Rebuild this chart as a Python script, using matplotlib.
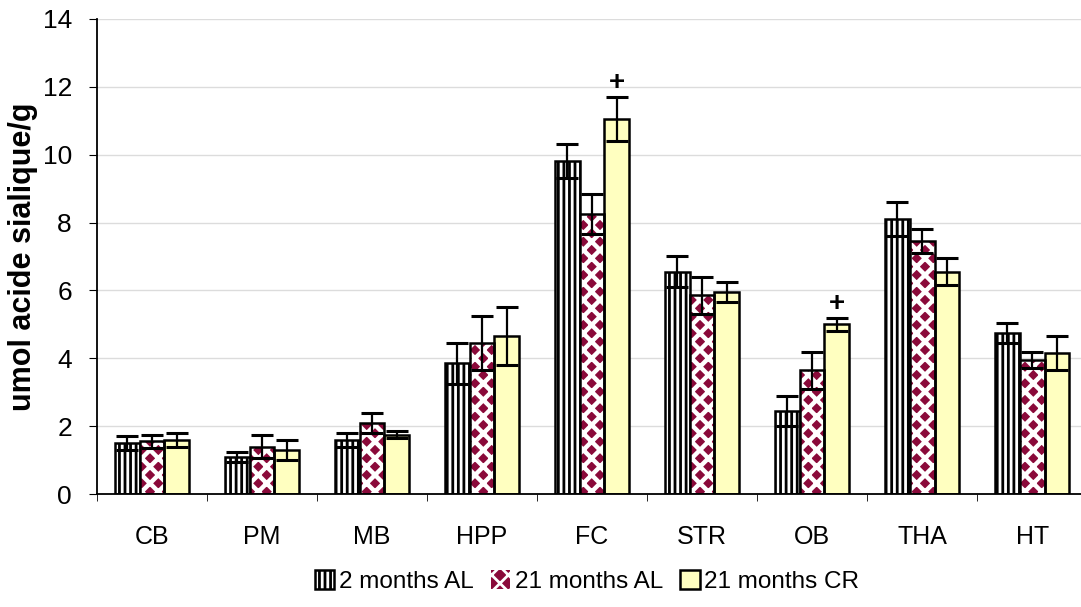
import matplotlib as mpl
mpl.use('Agg')
import matplotlib.pyplot as plt
import numpy as np

plt.rcParams['font.family'] = ['Liberation Sans', 'DejaVu Sans']
plt.rcParams['hatch.linewidth'] = 2.0

regions = ['CB', 'PM', 'MB', 'HPP', 'FC', 'STR', 'OB', 'THA', 'HT']
labels = ['2 months AL', '21 months AL', '21 months CR']
al2 = [1.5, 1.1, 1.6, 3.85, 9.8, 6.55, 2.45, 8.1, 4.75]
al21 = [1.55, 1.4, 2.1, 4.45, 8.25, 5.85, 3.65, 7.45, 3.95]
cr21 = [1.6, 1.3, 1.75, 4.65, 11.05, 5.95, 5.0, 6.55, 4.15]
err_al2 = [0.2, 0.15, 0.2, 0.6, 0.5, 0.45, 0.45, 0.5, 0.3]
err_al21 = [0.2, 0.35, 0.3, 0.8, 0.6, 0.55, 0.55, 0.35, 0.25]
err_cr21 = [0.2, 0.3, 0.1, 0.85, 0.65, 0.3, 0.2, 0.4, 0.5]
signif = {'FC': 2, 'OB': 2}   # '+' above 21 months CR

fig = plt.figure(figsize=(10.81, 6.07), dpi=100)
ax = fig.add_axes([0.0897, 0.186, 0.916, 0.783])

x = np.arange(len(regions))
w = 0.225
pos = [x - w, x, x + w]

b1 = ax.bar(pos[0], al2, w, color='white', edgecolor='black', hatch='|||',
            linewidth=1.8, label=labels[0], zorder=2)
b2 = ax.bar(pos[1], al21, w, color='#8a0a3a', edgecolor='white', hatch='xx',
            linewidth=0, label=labels[1], zorder=2)
for p in b2:
    if hasattr(p, 'set_hatch_linewidth'):
        p.set_hatch_linewidth(3.2)
ax.bar(pos[1], al21, w, fill=False, edgecolor='black', linewidth=1.8, zorder=3)
b3 = ax.bar(pos[2], cr21, w, color='#ffffc0', edgecolor='black',
            linewidth=1.8, label=labels[2], zorder=2)

for p, v, e in zip(pos, [al2, al21, cr21], [err_al2, err_al21, err_cr21]):
    ax.errorbar(p, v, yerr=e, fmt='none', ecolor='black', elinewidth=1.6,
                capsize=8, capthick=2.2, zorder=4)

for r, s in signif.items():
    i = regions.index(r)
    vals = [al2, al21, cr21][s]
    errs = [err_al2, err_al21, err_cr21][s]
    ax.text(pos[s][i], vals[i] + errs[i] + 0.02, '+', ha='center', va='bottom',
            fontsize=20, fontweight='bold')

ax.set_ylim(0, 14)
ax.set_xlim(-0.5, 8.5)
ax.set_yticks(np.arange(0, 15, 2))
ax.yaxis.grid(True, color='#dcdcdc', linewidth=1)
ax.set_axisbelow(True)
ax.set_xticks(x)
ax.set_xticklabels(regions, fontsize=18)
ax.set_xticks(np.arange(-0.5, 9, 1), minor=True)
ax.tick_params(axis='x', which='major', length=0, pad=22)
ax.tick_params(axis='x', which='minor', length=5, direction='out')
ax.tick_params(axis='y', labelsize=19, length=6, direction='out', pad=12)
ax.set_ylabel('umol acide sialique/g', fontsize=22, fontweight='bold')
ax.yaxis.set_label_coords(-0.06, 0.5)
ax.spines['top'].set_visible(False)
ax.spines['left'].set_linewidth(1.3)
ax.spines['bottom'].set_linewidth(1.3)

fig.legend(handles=[b1, b2, b3], labels=labels, loc='lower center',
           bbox_to_anchor=(0.543, -0.013), ncol=3, frameon=False, fontsize=17.5,
           handlelength=0.8, handleheight=0.8, handletextpad=0.2, columnspacing=0.7)

fig.savefig('out.png', dpi=100)
